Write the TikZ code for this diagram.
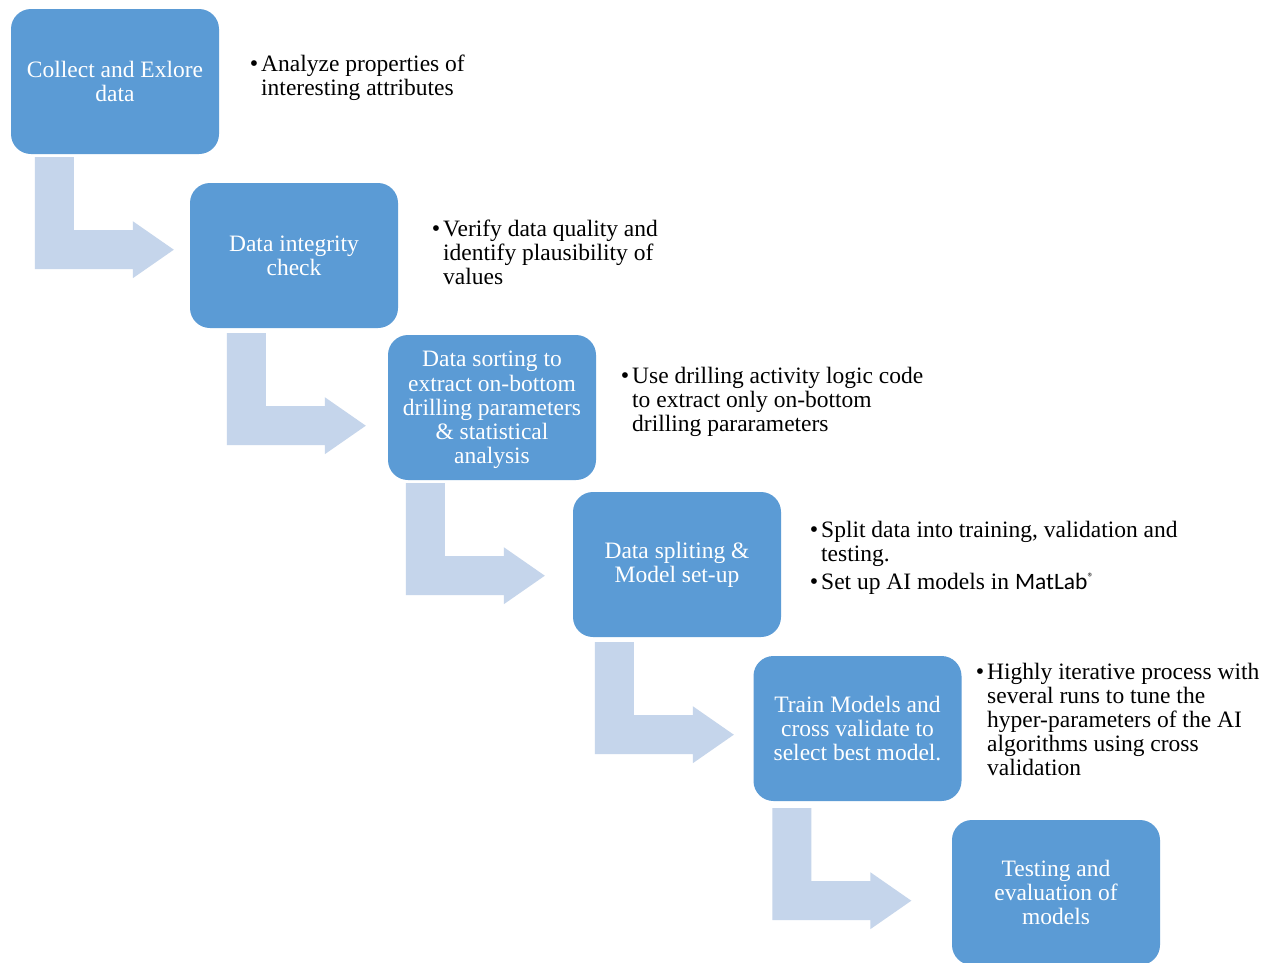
\documentclass[tikz,border=0pt]{standalone}
\usepackage{fontspec}
\setmainfont{Liberation Serif}
\newfontfamily\calib{Carlito}
\definecolor{boxblue}{HTML}{5B9BD5}
\definecolor{arrblue}{HTML}{C5D5EB}
\tikzset{
  stagetext/.style={text=white, align=center, inner sep=0pt,
    font=\fontsize{23.5}{24.2}\selectfont},
  stage/.style={stagetext, draw=none, fill=boxblue, rounded corners=20pt, minimum width=208pt,
    minimum height=145pt},
  note/.style={anchor=base west, inner sep=0pt, font=\fontsize{23.5}{24.2}\selectfont},
  flowarrow/.style={fill=arrblue, draw=none}
}
\newcommand\bentarr[3]{%
  \fill[flowarrow] ([xshift=#2pt,yshift=-#3pt]#1.south west) -- ++(39,0) -- ++(0,73)
    -- ++(59,0) -- ++(0,-9) -- ++(41,28.5) -- ++(-41,28.5) -- ++(0,-9) -- ++(-98,0) -- cycle;}
\newcommand\bul{\noindent\llap{{\fontsize{24}{24}\selectfont\textbullet}\hspace{3pt}}}
\begin{document}
\begin{tikzpicture}[x=1pt,y=-1pt]
\fill[white] (0,0) rectangle (1270,962);
\clip (0,0) rectangle (1270,962);
\useasboundingbox (0,0) rectangle (1270,962);

\node[stage] (b1) at (115,81.5) {Collect and Exlore\\data};
\node[stage] (b2) at (294,255.5) {Data integrity\\check};
\node[stage] (b3) at (492,407.5) {};
\node[stagetext] (b3t) at (492,410) {Data sorting to\\extract on-bottom\\drilling parameters\\\& statistical\\analysis};
\node[stage] (b4) at (677,564.5) {Data spliting \&\\Model set-up};
\node[stage] (b5) at (857.5,728.5) {Train Models and\\cross validate to\\select best model.};
\node[stage] (b6) at (1056,892.5) {Testing and\\evaluation of\\models};

\bentarr{b1}{24}{3}
\bentarr{b2}{37}{5}
\bentarr{b3}{18}{3}
\bentarr{b4}{22}{5}
\bentarr{b5}{19}{7}

\node[note] (n1) at (261,71) {\parbox[t]{260pt}{\bul Analyze properties of\\interesting attributes}};
\node[note] (n2) at (443,236) {\parbox[t]{260pt}{\bul Verify data quality and\\identify plausibility of\\values}};
\node[note] (n3) at (632,383) {\parbox[t]{330pt}{\bul Use drilling activity logic code\\to extract only on-bottom\\drilling pararameters}};
\node[note] (n4) at (821,537) {\parbox[t]{400pt}{\bul Split data into training, validation and\\testing.\par\vspace{4pt}\bul Set up AI models in {\calib MatLab\raisebox{8pt}{\fontsize{12}{12}\selectfont\textregistered}}}};
\node[note] (n5) at (987,679) {\parbox[t]{300pt}{\bul Highly iterative process with\\several runs to tune the\\hyper-parameters of the AI\\algorithms using cross\\validation}};
\end{tikzpicture}
\end{document}
